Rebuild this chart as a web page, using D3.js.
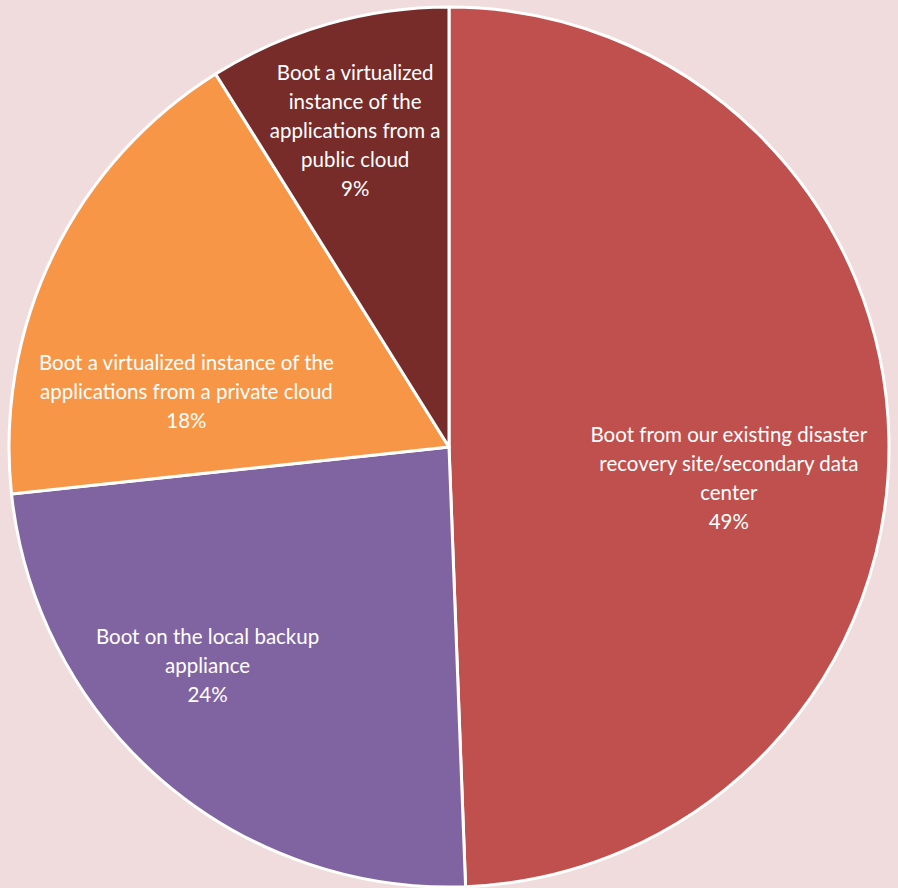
<!DOCTYPE html>
<html>
<head>
<meta charset="utf-8">
<script src="https://cdn.jsdelivr.net/npm/d3@7"></script>
<style>
  html, body { margin: 0; padding: 0; background: #f0dcdc; }
</style>
</head>
<body>
<div id="pie"></div>
<script>
// categories, one line of the label per entry
const categories = [
    ["Boot from our existing disaster", "recovery site/secondary data", "center"],
    ["Boot on the local backup", "appliance"],
    ["Boot a virtualized instance of the", "applications from a private cloud"],
    ["Boot a virtualized", "instance of the", "applications from a", "public cloud"]
];
const values = [49.4, 23.9, 17.8, 8.9];
const colors = ["#c0504d", "#8064a2", "#f79646", "#772c2a"];

// label placement (excel "best fit" style): angle shift in degrees, radius fraction
const labelShift = [7.5, 7, -14, -0.5];
const labelRadius = [0.64, 0.74, 0.61, 0.75];

function pie_chart() {
    const width = 898, height = 888;
    const cx = 449, cy = 447, r = 440;
    const lineH = 29;

    const svg = d3.select("#pie").append("svg")
        .attr("width", width)
        .attr("height", height);

    svg.append("rect")
        .attr("width", width)
        .attr("height", height)
        .attr("fill", "#f0dcdc");

    const g = svg.append("g")
        .attr("transform", `translate(${cx},${cy})`);

    const data = values.map((v, i) => ({value: v, i: i}));
    const total = d3.sum(values);

    const pie = d3.pie()
        .value(d => d.value)
        .sort(null);

    const arc = d3.arc()
        .innerRadius(0)
        .outerRadius(r);

    const arcs = pie(data);

    g.selectAll("path")
        .data(arcs)
        .enter().append("path")
        .attr("d", arc)
        .attr("fill", d => colors[d.data.i])
        .attr("stroke", "#ffffff")
        .attr("stroke-width", 3)
        .attr("stroke-linejoin", "round");

    const fmt = d3.format(".0%");

    const labels = g.selectAll("g.label")
        .data(arcs)
        .enter().append("g")
        .attr("class", "label")
        .attr("transform", d => {
            const a = (d.startAngle + d.endAngle) / 2 + labelShift[d.data.i] * Math.PI / 180;
            const rr = r * labelRadius[d.data.i];
            return `translate(${rr * Math.sin(a)},${-rr * Math.cos(a)})`;
        });

    labels.each(function(d) {
        const lines = categories[d.data.i].concat([fmt(d.data.value / total)]);
        const t = d3.select(this).append("text")
            .attr("text-anchor", "middle")
            .attr("font-family", "Lato, sans-serif")
            .attr("font-size", "20.5px")
            .attr("fill", "#ffffff");
        const y0 = -(lines.length - 1) * lineH / 2;
        lines.forEach((line, k) => {
            t.append("tspan")
                .attr("x", 0)
                .attr("y", y0 + k * lineH)
                .attr("dy", "0.35em")
                .text(line);
        });
    });
}

pie_chart();
</script>
</body>
</html>
